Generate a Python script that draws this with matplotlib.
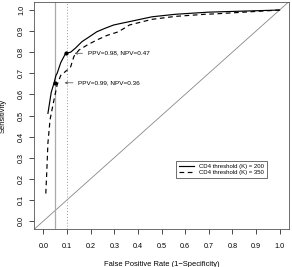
import numpy as np
import matplotlib
matplotlib.use("Agg")
import matplotlib.pyplot as plt

plt.rcParams['font.family'] = ['Liberation Sans', 'DejaVu Sans']

# ROC curve, CD4 threshold 200 (solid)
fpr200 = [0.019, 0.033, 0.045, 0.053, 0.058, 0.073, 0.094, 0.115, 0.136, 0.163,
          0.19, 0.226, 0.26, 0.297, 0.33, 0.364, 0.46, 0.56, 0.70, 0.85, 1.0]
sens200 = [0.51, 0.61, 0.655, 0.69, 0.70, 0.75, 0.795, 0.80, 0.82, 0.85,
           0.87, 0.897, 0.913, 0.929, 0.937, 0.945, 0.968, 0.98, 0.99, 0.995, 1.0]

# ROC curve, CD4 threshold 350 (dashed)
fpr350 = [0.01, 0.014, 0.019, 0.028, 0.042, 0.058, 0.073, 0.10, 0.115, 0.129,
          0.15, 0.185, 0.226, 0.27, 0.318, 0.364, 0.46, 0.56, 0.686, 0.73, 0.85, 1.0]
sens350 = [0.13, 0.23, 0.37, 0.48, 0.56, 0.645, 0.69, 0.715, 0.73, 0.78,
           0.81, 0.834, 0.858, 0.88, 0.897, 0.929, 0.956, 0.97, 0.98, 0.982, 0.99, 1.0]

# marked operating points
pts_x = [0.048, 0.097]
pts_y = [0.655, 0.795]
pts_lab = ["PPV=0.99, NPV=0.36", "PPV=0.98, NPV=0.47"]
lab_x = [0.147, 0.187]
arrow_to = [0.078, 0.12]

fig = plt.figure(figsize=(2.92, 2.67), dpi=100)
ax = fig.add_axes([34/292, 1 - 229.4/267, 255/292, 227.8/267])

ax.plot([-0.1, 1.1], [-0.1, 1.1], color="#888888", lw=0.6)
ax.axvline(0.05, color="#aaaaaa", lw=0.9)
ax.axvline(0.1, color="#999999", lw=0.7, ls=(0, (1, 2)))

ax.plot(fpr200, sens200, color="black", lw=0.85, label="CD4 threshold (K) = 200")
ax.plot(fpr350, sens350, color="black", lw=0.85, ls=(0, (4, 3)), label="CD4 threshold (K) = 350")
ax.plot(pts_x, pts_y, "o", color="black", ms=2)

for px, py, lab, lx, ax_to in zip(pts_x, pts_y, pts_lab, lab_x, arrow_to):
    ax.annotate("", xy=(ax_to, py), xytext=(lx - 0.01, py),
                arrowprops=dict(arrowstyle="->", lw=0.5, color="#444444", mutation_scale=4))
    ax.text(lx, py, lab, fontsize=4.6, va="center", ha="left")

ax.set_xlim(-0.04, 1.04)
ax.set_ylim(-0.04, 1.04)
ticks = np.round(np.arange(0, 1.01, 0.1), 1)
ax.set_xticks(ticks)
ax.set_yticks(ticks)
ax.set_xticklabels([f"{t:.1f}" for t in ticks], fontsize=5.2)
ax.set_yticklabels([f"{t:.1f}" for t in ticks], fontsize=5.2, rotation=90, va="center")
ax.tick_params(length=3.5, width=0.5)
ax.tick_params(axis="x", pad=6)
ax.tick_params(axis="y", pad=3)
for s in ax.spines.values():
    s.set_linewidth(0.6)
    s.set_color("#555555")

ax.set_xlabel("False Positive Rate (1\u2212Specificity)", fontsize=5.4, labelpad=8)
ax.set_ylabel("Sensitivity", fontsize=5.4, labelpad=8)

leg = ax.legend(loc="upper left", bbox_to_anchor=(0.545, 0.315), fontsize=4.3,
                frameon=True, fancybox=False, edgecolor="black", handlelength=2.5,
                borderpad=0.5, labelspacing=0.2, handletextpad=0.8)
leg.get_frame().set_linewidth(0.5)

fig.savefig("out.png", dpi=100)
